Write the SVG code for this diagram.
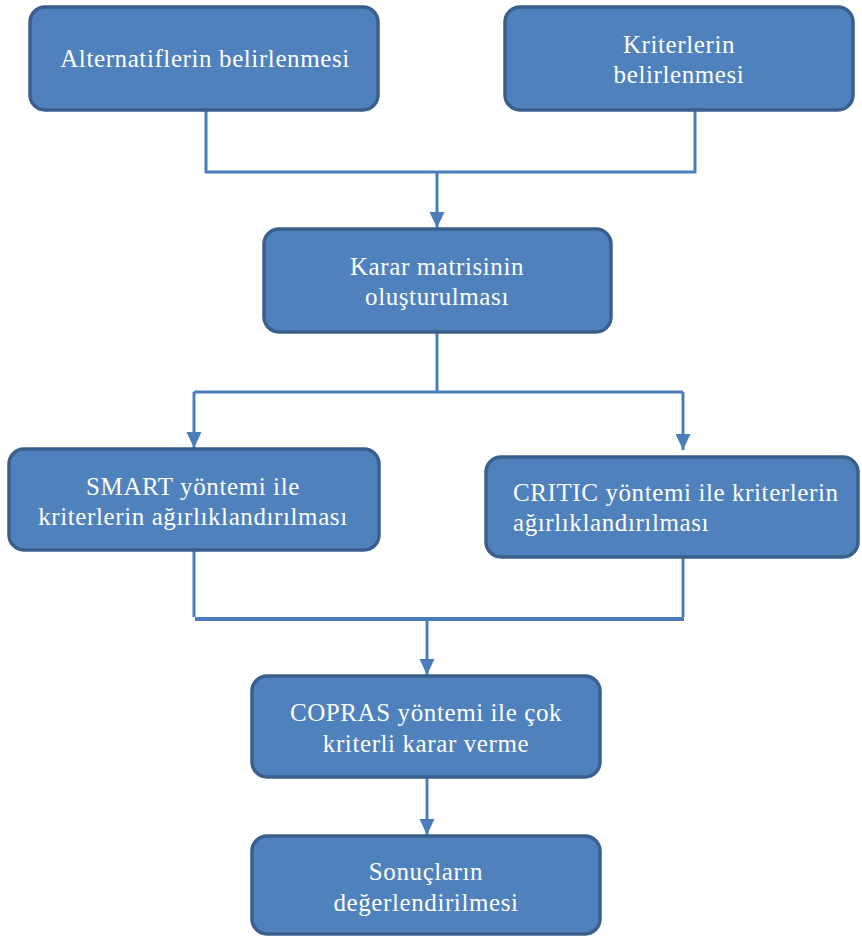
<svg xmlns="http://www.w3.org/2000/svg" width="862" height="937" viewBox="0 0 862 937">
<style>
.box{fill:#4F81BD;stroke:#3A5F8C;stroke-width:3.5}
.t{font-family:"Liberation Serif","Times New Roman",serif;font-size:25px;fill:#ffffff;letter-spacing:0.6px}
.c{text-anchor:middle}
.ln{fill:none;stroke:#4A7EBB;stroke-width:3}
</style>
<defs>
<marker id="ah" markerUnits="userSpaceOnUse" markerWidth="18" markerHeight="18" viewBox="0 0 18 18" refX="16" refY="9" orient="auto">
<path d="M0,1.5 L16,9 L0,16.5 Z" fill="#4A7EBB"/>
</marker>
</defs>
<rect width="862" height="937" fill="#ffffff"/>
<g id="connectors">
<path class="ln" d="M206,110 V172 H695 V110"/>
<path class="ln" d="M437,172 V228" marker-end="url(#ah)"/>
<path class="ln" d="M437,333 V392"/>
<path class="ln" d="M194,392 H683"/>
<path class="ln" d="M194,392 V448" marker-end="url(#ah)"/>
<path class="ln" d="M683,392 V450" marker-end="url(#ah)"/>
<path class="ln" d="M194,550 V617"/>
<path class="ln" d="M683,557 V617"/>
<path class="ln" d="M195,619 H684" style="stroke-width:4"/>
<path class="ln" d="M427,619 V675" marker-end="url(#ah)"/>
<path class="ln" d="M427,778 V835" marker-end="url(#ah)"/>
</g>
<g id="alternatifler">
<rect class="box" x="30" y="7" width="348" height="103" rx="15"/>
<text class="t c" x="205" y="67">Alternatiflerin belirlenmesi</text>
</g>
<g id="kriterler">
<rect class="box" x="505" y="7" width="348" height="103" rx="15"/>
<text class="t c" x="679" y="53">Kriterlerin</text>
<text class="t c" x="679" y="83">belirlenmesi</text>
</g>
<g id="karar-matrisi">
<rect class="box" x="264" y="229" width="347" height="103" rx="15"/>
<text class="t c" x="437" y="275">Karar matrisinin</text>
<text class="t c" x="437" y="305">oluşturulması</text>
</g>
<g id="smart">
<rect class="box" x="9" y="449" width="370" height="101" rx="15"/>
<text class="t c" x="193" y="495">SMART yöntemi ile</text>
<text class="t c" x="193" y="525">kriterlerin ağırlıklandırılması</text>
</g>
<g id="critic">
<rect class="box" x="486" y="457" width="372" height="100" rx="15"/>
<text class="t" x="513" y="501">CRITIC yöntemi ile kriterlerin</text>
<text class="t" x="513" y="531">ağırlıklandırılması</text>
</g>
<g id="copras">
<rect class="box" x="252" y="676" width="348" height="101" rx="15"/>
<text class="t c" x="426" y="721">COPRAS yöntemi ile çok</text>
<text class="t c" x="426" y="752">kriterli karar verme</text>
</g>
<g id="sonuclar">
<rect class="box" x="252" y="836" width="348" height="98" rx="15"/>
<text class="t c" x="426" y="880">Sonuçların</text>
<text class="t c" x="426" y="911">değerlendirilmesi</text>
</g>
</svg>
